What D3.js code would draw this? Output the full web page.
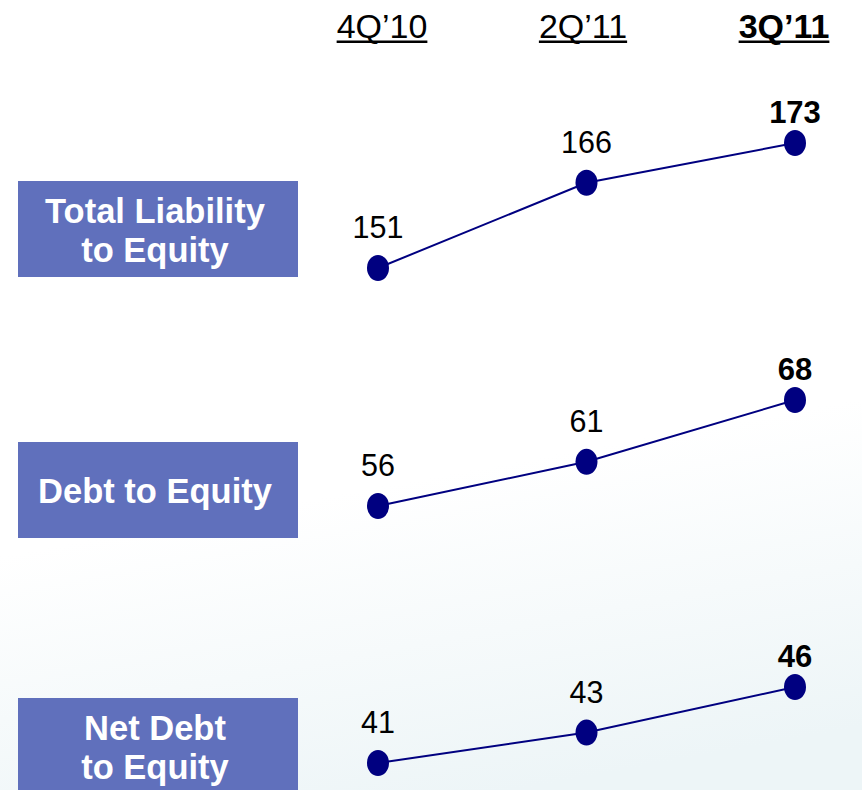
<!DOCTYPE html>
<html>
<head>
<meta charset="utf-8">
<script src="https://cdn.jsdelivr.net/npm/d3@7"></script>
<style>
  html, body { margin: 0; padding: 0; background: #fff; }
  svg { display: block; font-family: "Liberation Sans", Arial, Helvetica, sans-serif; }
</style>
</head>
<body>
<div id="chart"></div>
<script>
// ---- data ----
const periods = ["4Q\u201910", "2Q\u201911", "3Q\u201911"];
const metrics = [["Total Liability", "to Equity"], ["Debt to Equity"], ["Net Debt", "to Equity"]];
const totalLiabilityToEquity = [151, 166, 173];
const debtToEquity = [56, 61, 68];
const netDebtToEquity = [41, 43, 46];
const seriesValues = [totalLiabilityToEquity, debtToEquity, netDebtToEquity];

// ---- layout ----
const W = 862, H = 790;
const panelBoxes = [{top: 181, bottom: 277}, {top: 442, bottom: 538}, {top: 698, bottom: 794}];
const panelRanges = [[268, 143], [506, 400], [763, 687]];

const svg = d3.select("#chart").append("svg").attr("width", W).attr("height", H);

const defs = svg.append("defs");
const grad = defs.append("linearGradient").attr("id", "bg")
  .attr("x1", "0.4").attr("y1", "0").attr("x2", "0.6").attr("y2", "1");
grad.append("stop").attr("offset", "0.6").attr("stop-color", "#ffffff");
grad.append("stop").attr("offset", "1").attr("stop-color", "#edf5f7");
svg.append("rect").attr("width", W).attr("height", H).attr("fill", "url(#bg)");

const x = d3.scalePoint().domain(periods).range([378, 795]);
const xHeader = d3.scalePoint().domain(periods).range([382, 784]);

// header
const header = svg.append("g");
periods.forEach((p, i) => {
  const bold = i === periods.length - 1;
  const t = header.append("text")
    .attr("x", xHeader(p)).attr("y", 38)
    .attr("text-anchor", "middle")
    .attr("font-size", 34)
    .attr("font-weight", bold ? "bold" : "normal")
    .attr("fill", "#000")
    .text(p);
  const w = t.node().getComputedTextLength();
  header.append("rect")
    .attr("x", xHeader(p) - w / 2).attr("y", 40.5)
    .attr("width", w).attr("height", 2.5)
    .attr("fill", "#000");
});

// panels
seriesValues.forEach((vals, k) => {
  const box = panelBoxes[k];
  const g = svg.append("g");
  g.append("rect")
    .attr("x", 18).attr("y", box.top)
    .attr("width", 280).attr("height", box.bottom - box.top)
    .attr("fill", "#6070bc");
  const lines = metrics[k];
  const cy = (box.top + box.bottom) / 2;
  lines.forEach((ln, j) => {
    g.append("text")
      .attr("x", 155)
      .attr("y", cy + 13 + (j - (lines.length - 1) / 2) * 39)
      .attr("text-anchor", "middle")
      .attr("font-size", 34.5).attr("font-weight", "bold")
      .attr("fill", "#fff")
      .text(ln);
  });

  const y = d3.scaleLinear().domain(d3.extent(vals)).range(panelRanges[k]);
  const data = periods.map((p, i) => ({p, v: vals[i], i}));

  g.append("path")
    .datum(data)
    .attr("d", d3.line().x(d => x(d.p)).y(d => y(d.v)))
    .attr("fill", "none")
    .attr("stroke", "#000080")
    .attr("stroke-width", 2);

  g.selectAll("ellipse").data(data).join("ellipse")
    .attr("cx", d => x(d.p)).attr("cy", d => y(d.v))
    .attr("rx", 11).attr("ry", 13)
    .attr("fill", "#000080");

  g.selectAll("text.val").data(data).join("text")
    .attr("class", "val")
    .attr("x", d => x(d.p))
    .attr("y", d => y(d.v) - (d.i === 2 ? 20 : 30))
    .attr("text-anchor", "middle")
    .attr("font-size", d => d.i === 2 ? 31 : 30.5)
    .attr("font-weight", d => d.i === 2 ? "bold" : "normal")
    .attr("fill", "#000")
    .text(d => d.v);
});
</script>
</body>
</html>
